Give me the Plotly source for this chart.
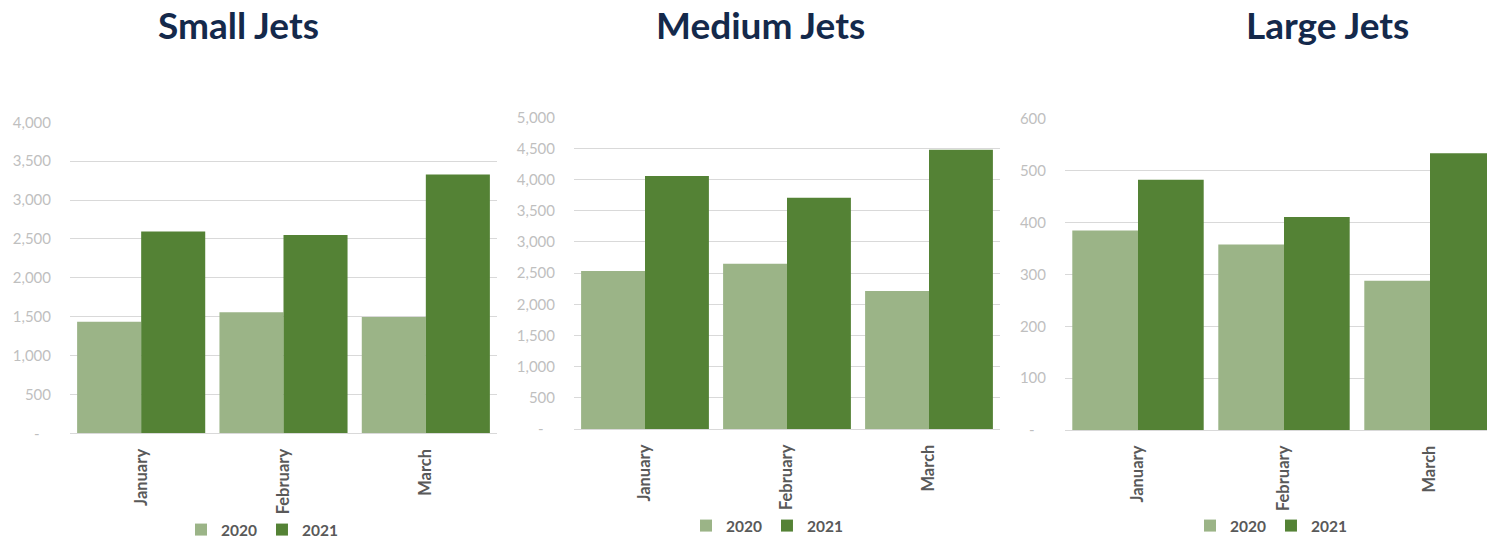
import plotly.graph_objects as go

months = ["January", "February", "March"]
series_names = ["2020", "2021"]

small_2020 = [1436, 1556, 1496]
small_2021 = [2597, 2550, 3330]
medium_2020 = [2535, 2652, 2214]
medium_2021 = [4059, 3711, 4481]
large_2020 = [385, 358, 288]
large_2021 = [483, 411, 534]

titles = ["Small Jets", "Medium Jets", "Large Jets"]
small_ticks = [0, 500, 1000, 1500, 2000, 2500, 3000, 3500, 4000]
medium_ticks = [0, 500, 1000, 1500, 2000, 2500, 3000, 3500, 4000, 4500, 5000]
large_ticks = [0, 100, 200, 300, 400, 500, 600]

C2020 = "#9BB487"
C2021 = "#548235"
GRID = "#D9D9D9"
TICKC = "#BFBFBF"
CATC = "#595959"
TITLEC = "#14294B"
FONT = "Lato"

W, H = 1487, 544

def fx(px):
    return px / W

def fy(py):
    return (H - py) / H

panels = [
    dict(data=(small_2020, small_2021), ticks=small_ticks, x=(70, 497), y=(433.3, 122.3),
         xr=[-0.5, 2.5], legend="legend", lx=262, ly=530, tx=238),
    dict(data=(medium_2020, medium_2021), ticks=medium_ticks, x=(574, 1000), y=(429, 117.3),
         xr=[-0.5, 2.5], legend="legend2", lx=767, ly=526, tx=760),
    dict(data=(large_2020, large_2021), ticks=large_ticks, x=(1065, 1487), y=(430, 119),
         xr=[-0.5, -0.5 + 422 / 146], legend="legend3", lx=1271, ly=526, tx=1327),
]

fig = go.Figure()
layout = dict(
    width=W, height=H,
    margin=dict(l=0, r=0, t=0, b=0, autoexpand=False),
    paper_bgcolor="white", plot_bgcolor="white",
    barmode="group", bargap=0.1, bargroupgap=0,
    font=dict(family=FONT),
    annotations=[],
)

for i, p in enumerate(panels):
    sfx = "" if i == 0 else str(i + 1)
    xa, ya = "x" + sfx, "y" + sfx
    for name, vals, col in zip(series_names, p["data"], [C2020, C2021]):
        fig.add_trace(go.Bar(
            x=months, y=vals, name=name, marker=dict(color=col, line=dict(width=0)),
            xaxis=xa, yaxis=ya, legend=p["legend"], showlegend=True,
        ))
    layout["xaxis" + sfx] = dict(
        domain=[fx(p["x"][0]), fx(p["x"][1])], anchor=ya,
        range=p["xr"], showgrid=False, showline=True, linecolor=GRID, linewidth=1,
        tickangle=-90, ticks="", fixedrange=True, ticklabelstandoff=8,
        tickfont=dict(family=FONT, size=16.5, color=CATC, weight="bold"),
    )
    top = p["ticks"][-1]
    layout["yaxis" + sfx] = dict(
        domain=[fy(p["y"][0]), fy(p["y"][1])], anchor=xa,
        range=[0, top], tickvals=p["ticks"],
        ticktext=["-\u00a0\u00a0\u00a0" if v == 0 else f"{v:,}" for v in p["ticks"]],
        showgrid=True, gridcolor=GRID, gridwidth=1, zeroline=False, showline=False,
        ticks="", ticklabelstandoff=18, fixedrange=True,
        tickfont=dict(family=FONT, size=15, color=TICKC),
    )
    layout[p["legend"]] = dict(
        orientation="h", x=fx(p["lx"]), y=fy(p["ly"]), xanchor="center", yanchor="middle",
        font=dict(family=FONT, size=15.5, color=CATC, weight="bold"),
        bgcolor="rgba(0,0,0,0)", itemwidth=30,
    )
    layout["annotations"].append(dict(
        text=titles[i], x=fx(p["tx"]), y=fy(25), xref="paper", yref="paper",
        xanchor="center", yanchor="middle", showarrow=False,
        font=dict(family=FONT, size=37, color=TITLEC, weight="bold"),
    ))

fig.update_layout(**layout)
fig.write_html(
    "out.html",
    config={"displayModeBar": False},
    post_script="document.body.style.margin='0';document.body.style.overflow='hidden';",
)
